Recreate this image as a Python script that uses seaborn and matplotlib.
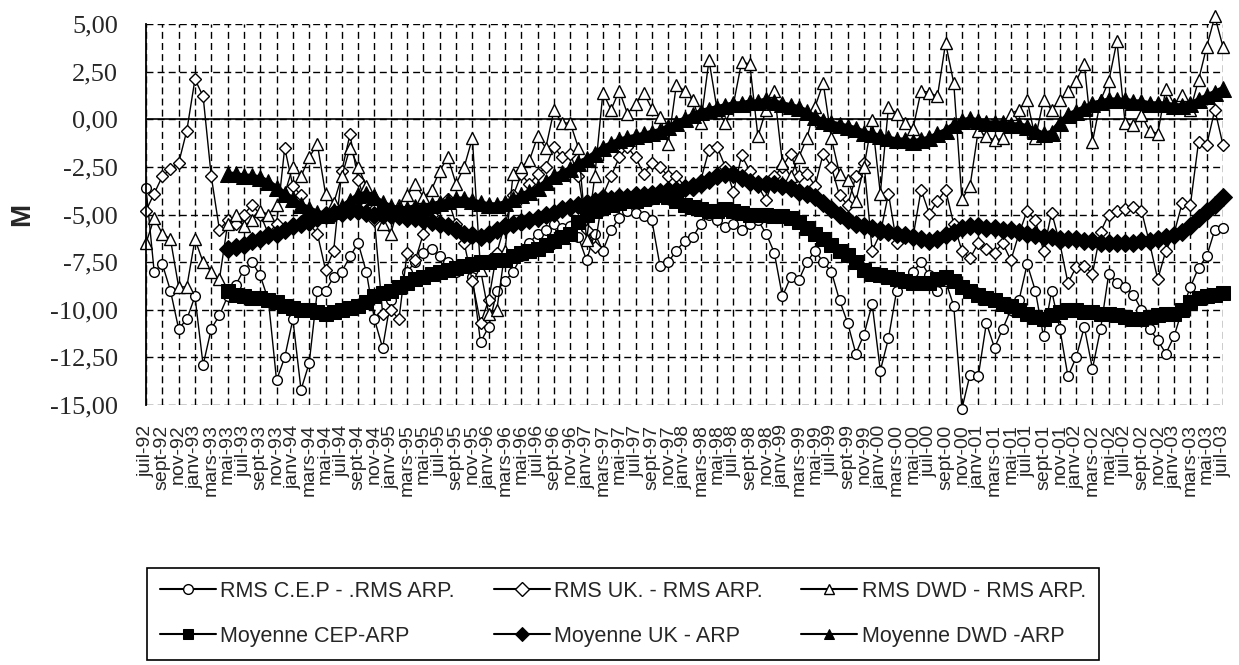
import numpy as np
import pandas as pd
import seaborn as sns
import matplotlib.pyplot as plt

# mois affichés sur l'axe (un libellé tous les deux mois, juil-92 -> juil-03)
mois = ['janv', 'févr', 'mars', 'avr', 'mai', 'juin',
        'juil', 'août', 'sept', 'oct', 'nov', 'déc']
n_mois = 133
tick_pos = list(range(0, n_mois, 2))
tick_labels = [f"{mois[(6 + i) % 12]}-{(92 + (6 + i) // 12) % 100:02d}" for i in tick_pos]

y_ticks = [-15, -12.5, -10, -7.5, -5, -2.5, 0, 2.5, 5]
y_labels = ["-15,00", "-12,50", "-10,00", "-7,50", "-5,00", "-2,50", "0,00", "2,50", "5,00"]

# valeurs mensuelles
rms_cep = [
    -3.6, -8.0, -7.6, -9.0, -11.0, -10.5, -9.3, -12.9, -11.0, -10.3,
    -9.3, -8.7, -7.9, -7.5, -8.2, -9.5, -13.7, -12.5, -10.5, -14.2,
    -12.8, -9.0, -9.0, -8.3, -8.0, -7.2, -6.5, -8.0, -10.5, -12.0,
    -9.5, -8.8, -8.0, -7.5, -7.0, -6.8, -7.2, -7.5, -8.0, -7.8,
    -8.3, -11.7, -10.9, -9.0, -8.5, -8.0, -7.2, -6.5, -6.0, -5.8,
    -5.5, -5.7, -5.6, -6.2, -7.4, -6.0, -6.9, -5.8, -5.2, -4.8,
    -4.9, -5.1, -5.3, -7.7, -7.5, -6.9, -6.4, -6.2, -5.5, -5.0,
    -5.3, -5.65, -5.5, -5.8, -5.5, -5.3, -6.0, -7.0, -9.3, -8.3,
    -8.45, -7.5, -6.9, -7.5, -8.0, -9.5, -10.7, -12.3, -11.3, -9.7,
    -13.2, -11.5, -9.0, -8.5, -8.0, -7.5, -8.2, -9.0, -8.5, -9.8,
    -15.2, -13.4, -13.5, -10.7, -12.0, -11.0, -10.0, -9.5, -7.6, -9.0,
    -11.4, -9.0, -11.0, -13.5, -12.5, -10.9, -13.1, -11.0, -8.1, -8.6,
    -8.8, -9.2, -10.0, -11.0, -11.6, -12.3, -11.4, -10.0, -8.8, -7.8,
    -7.2, -5.8, -5.7,
]
rms_uk = [
    -4.8, -3.9, -3.0, -2.6, -2.3, -0.6, 2.1, 1.2, -3.0, -5.8,
    -5.3, -5.5, -5.0, -4.5, -5.0, -6.0, -5.5, -1.5, -3.5, -4.0,
    -5.5, -6.0, -7.9, -6.9, -2.7, -0.8, -3.2, -4.5, -5.3, -10.2,
    -10.0, -10.5, -7.0, -7.4, -6.0, -5.0, -4.5, -4.2, -5.5, -6.5,
    -8.5, -10.7, -9.5, -7.0, -5.5, -4.0, -2.9, -3.4, -2.9, -2.5,
    -1.45, -2.0, -1.8, -3.0, -5.8, -6.7, -4.0, -3.0, -2.0, -1.45,
    -2.0, -2.85, -2.3, -2.5, -3.0, -3.0, -3.5, -3.7, -3.2, -1.6,
    -1.45, -2.5, -3.8, -1.9, -2.7, -3.5, -4.25, -3.0, -2.5, -1.8,
    -3.0, -2.85, -3.5, -1.8, -2.5, -4.0, -4.5, -3.0, -2.3, -6.9,
    -6.0, -3.9, -6.5, -6.0, -6.2, -3.7, -4.95, -4.3, -3.7, -5.5,
    -6.9, -7.3, -6.5, -6.8, -7.0, -6.5, -7.4, -6.0, -4.8, -5.3,
    -6.9, -4.9, -6.5, -8.6, -7.75, -7.7, -8.1, -5.9, -5.0, -4.8,
    -4.7, -4.6, -4.8, -6.5, -8.4, -6.9, -6.0, -4.4, -4.5, -1.2,
    -1.35, 0.5, -1.35,
]
rms_dwd = [
    -6.5, -5.2, -6.0, -6.3, -8.8, -8.8, -6.3, -7.5, -8.0, -8.4,
    -5.5, -5.0, -5.6, -5.3, -4.8, -5.0, -4.5, -3.9, -2.5, -3.0,
    -2.0, -1.3, -3.9, -4.4, -3.0, -1.5, -2.5, -3.5, -4.0, -5.5,
    -6.0, -4.5, -4.0, -3.4, -4.1, -3.7, -2.7, -2.0, -3.4, -2.5,
    -1.0, -7.9, -10.2, -10.0, -6.9, -2.85, -2.5, -2.15, -0.9, -1.5,
    0.47, -0.2, -0.2, -1.5, -6.35, -3.0, 1.4, 0.5, 1.5, 0.3,
    0.8, 1.4, 0.55, 0.1, -1.3, 1.8, 1.5, 1.0, -0.2, 3.1,
    0.5, -0.2, 0.8, 3.0, 2.9, -0.9, 0.5, 1.5, -2.3, -3.0,
    -2.0, -1.0, 0.65, 1.9, -1.0, -2.85, -3.2, -4.3, -2.5, -0.05,
    -3.9, 0.65, 0.3, -0.2, -0.5, 1.5, 1.4, 1.2, 4.0, 1.9,
    -4.2, -3.5, -0.6, -0.9, -1.1, -1.0, 0.3, 0.5, 1.0, -1.0,
    1.0, 0.5, 1.0, 1.5, 2.0, 2.9, -1.2, 1.0, 2.0, 4.1,
    -0.2, -0.3, 0.2, -0.6, -0.75, 1.6, 0.8, 1.25, 0.5, 2.05,
    3.8, 5.4, 3.8,
]

# moyennes glissantes (commencent au 11e mois)
moy_cep = [np.nan] * 10 + [
    -9.0, -9.2, -9.3, -9.4, -9.4, -9.5, -9.6, -9.8, -9.9, -10.0,
    -10.0, -10.1, -10.2, -10.1, -10.0, -9.9, -9.8, -9.6, -9.3, -9.1,
    -9.0, -8.8, -8.6, -8.4, -8.3, -8.1, -8.0, -7.9, -7.8, -7.7,
    -7.6, -7.5, -7.5, -7.4, -7.4, -7.2, -7.0, -6.9, -6.8, -6.6,
    -6.4, -6.2, -6.0, -5.4, -5.0, -4.8, -4.6, -4.5, -4.4, -4.3,
    -4.3, -4.2, -4.1, -4.0, -4.1, -4.3, -4.5, -4.6, -4.7, -4.8,
    -4.8, -4.7, -4.8, -4.9, -5.0, -5.0, -5.0, -5.1, -5.1, -5.2,
    -5.4, -5.7, -6.0, -6.3, -6.6, -6.9, -7.1, -7.5, -7.9, -8.1,
    -8.2, -8.3, -8.4, -8.5, -8.6, -8.6, -8.6, -8.4, -8.3, -8.5,
    -8.8, -9.0, -9.2, -9.4, -9.5, -9.7, -9.8, -10.0, -10.2, -10.4,
    -10.5, -10.3, -10.1, -10.0, -10.0, -10.1, -10.1, -10.2, -10.2, -10.3,
    -10.4, -10.5, -10.5, -10.4, -10.3, -10.2, -10.2, -10.0, -9.6, -9.4,
    -9.3, -9.2, -9.1,
]
moy_uk = [np.nan] * 10 + [
    -6.8, -6.7, -6.6, -6.4, -6.3, -6.1, -6.0, -5.8, -5.6, -5.5,
    -5.4, -5.2, -5.0, -4.9, -4.9, -4.8, -4.8, -4.9, -5.0, -5.0,
    -5.0, -5.1, -5.2, -5.2, -5.3, -5.4, -5.5, -5.6, -5.8, -6.0,
    -6.1, -6.2, -6.0, -5.8, -5.6, -5.5, -5.4, -5.3, -5.2, -5.0,
    -4.9, -4.7, -4.6, -4.5, -4.4, -4.3, -4.2, -4.2, -4.1, -4.1,
    -4.0, -4.0, -3.9, -3.8, -3.7, -3.7, -3.6, -3.5, -3.4, -3.2,
    -3.0, -2.9, -2.9, -3.1, -3.3, -3.4, -3.4, -3.4, -3.5, -3.6,
    -3.8, -3.9, -4.1, -4.4, -4.7, -5.0, -5.3, -5.5, -5.6, -5.7,
    -5.8, -5.9, -6.0, -6.1, -6.2, -6.3, -6.4, -6.3, -6.1, -5.9,
    -5.7, -5.6, -5.6, -5.7, -5.7, -5.8, -5.8, -5.9, -6.0, -6.1,
    -6.2, -6.2, -6.3, -6.3, -6.3, -6.4, -6.4, -6.5, -6.5, -6.5,
    -6.5, -6.5, -6.4, -6.4, -6.3, -6.2, -6.1, -5.9, -5.6, -5.2,
    -4.8, -4.5, -4.1,
]
moy_dwd = [np.nan] * 10 + [
    -2.9, -2.9, -3.0, -3.0, -3.1, -3.3, -3.6, -3.9, -4.2, -4.5,
    -4.7, -4.9, -5.0, -4.8, -4.6, -4.3, -4.0, -3.9, -4.1, -4.4,
    -4.6, -4.7, -4.7, -4.6, -4.6, -4.5, -4.4, -4.3, -4.2, -4.2,
    -4.3, -4.4, -4.5, -4.5, -4.4, -4.2, -4.0, -3.8, -3.6, -3.3,
    -3.0, -2.8, -2.6, -2.3, -2.1, -1.8, -1.5, -1.3, -1.1, -1.0,
    -0.9, -0.8, -0.7, -0.6, -0.4, -0.2, 0.0, 0.2, 0.4, 0.5,
    0.6, 0.7, 0.8, 0.8, 0.9, 0.9, 1.0, 0.9, 0.8, 0.7,
    0.6, 0.4, 0.1, -0.1, -0.2, -0.3, -0.4, -0.5, -0.7, -0.8,
    -0.9, -1.0, -1.1, -1.1, -1.2, -1.1, -1.0, -0.8, -0.6, -0.3,
    -0.1, 0.0, -0.1, -0.2, -0.2, -0.2, -0.3, -0.3, -0.4, -0.6,
    -0.8, -0.7, -0.2, 0.2, 0.4, 0.6, 0.8, 0.9, 1.0, 1.0,
    1.0, 0.9, 0.9, 0.8, 0.8, 0.8, 0.7, 0.7, 0.8, 1.0,
    1.2, 1.4, 1.6,
]

df = pd.DataFrame({
    "mois": np.arange(n_mois),
    "rms_cep": rms_cep, "rms_uk": rms_uk, "rms_dwd": rms_dwd,
    "moy_cep": moy_cep, "moy_uk": moy_uk, "moy_dwd": moy_dwd,
})

sns.set_style("white")
plt.rcParams['font.family'] = ['Liberation Sans', 'DejaVu Sans']

fig = plt.figure(figsize=(12.39, 6.65), dpi=100)
ax = fig.add_axes([146 / 1239, 1 - 405 / 665, (1223 - 146) / 1239, (405 - 24) / 665])

# séries brutes : marqueurs creux
hollow = dict(color="black", linewidth=1, markerfacecolor="white",
              markeredgecolor="black", markeredgewidth=1, clip_on=False)
sns.lineplot(data=df, x="mois", y="rms_cep", ax=ax, marker="o", markersize=7,
             label="RMS C.E.P - .RMS ARP.", **hollow)
sns.lineplot(data=df, x="mois", y="rms_uk", ax=ax, marker="D", markersize=6,
             label="RMS UK. - RMS ARP.", **hollow)
sns.lineplot(data=df, x="mois", y="rms_dwd", ax=ax, marker="^", markersize=8,
             label="RMS DWD - RMS ARP.", **hollow)

# moyennes : bandes épaisses de marqueurs pleins
full = dict(color="black", linewidth=4, markerfacecolor="black",
            markeredgecolor="black", clip_on=False)
sns.lineplot(data=df, x="mois", y="moy_cep", ax=ax, marker="s", markersize=9.5,
             label="Moyenne CEP-ARP", **full)
sns.lineplot(data=df, x="mois", y="moy_uk", ax=ax, marker="D", markersize=9,
             label="Moyenne UK - ARP", **full)
sns.lineplot(data=df, x="mois", y="moy_dwd", ax=ax, marker="^", markersize=11,
             label="Moyenne DWD -ARP", **full)

ax.axhline(0, color="black", linewidth=1.2, zorder=1.5)

ax.set_xlim(0, n_mois - 1)
ax.set_ylim(-15, 5)
ax.set_xticks(tick_pos)
ax.set_xticklabels(tick_labels, rotation=90, fontsize=14)
ax.set_yticks(y_ticks)
ax.set_yticklabels(y_labels, fontsize=19, family=['Liberation Serif', 'DejaVu Serif'])
ax.tick_params(axis='y', length=0, pad=20)
ax.tick_params(axis='x', length=0, pad=14)
ax.grid(True, color="black", linestyle=(0, (5, 3)), linewidth=1)
ax.set_axisbelow(True)
for side in ["top", "right", "bottom"]:
    ax.spines[side].set_visible(False)
ax.spines["left"].set_color("black")
ax.spines["left"].set_linewidth(1.3)
ax.set_xlabel("")
ax.set_ylabel("")
fig.text(22 / 1239, 1 - 214 / 665, "M", rotation=90, fontsize=20, fontweight="bold",
         ha="center", va="center")

handles, labels = ax.get_legend_handles_labels()
if ax.get_legend() is not None:
    ax.get_legend().remove()
order = [0, 3, 1, 4, 2, 5]
leg = fig.legend([handles[k] for k in order], [labels[k] for k in order],
                 loc="upper left", bbox_to_anchor=(147 / 1239, 1 - 568 / 665),
                 ncol=3, fontsize=15.5, frameon=True, fancybox=False,
                 edgecolor="black", framealpha=1, handlelength=2.6,
                 handletextpad=0.2, columnspacing=1.8, labelspacing=1.1,
                 borderpad=0.6, borderaxespad=0)
leg.get_frame().set_linewidth(1.2)
for h in leg.legend_handles:
    h.set_linewidth(1.5)
    h.set_markersize(7)

fig.savefig("out.png", dpi=100)
